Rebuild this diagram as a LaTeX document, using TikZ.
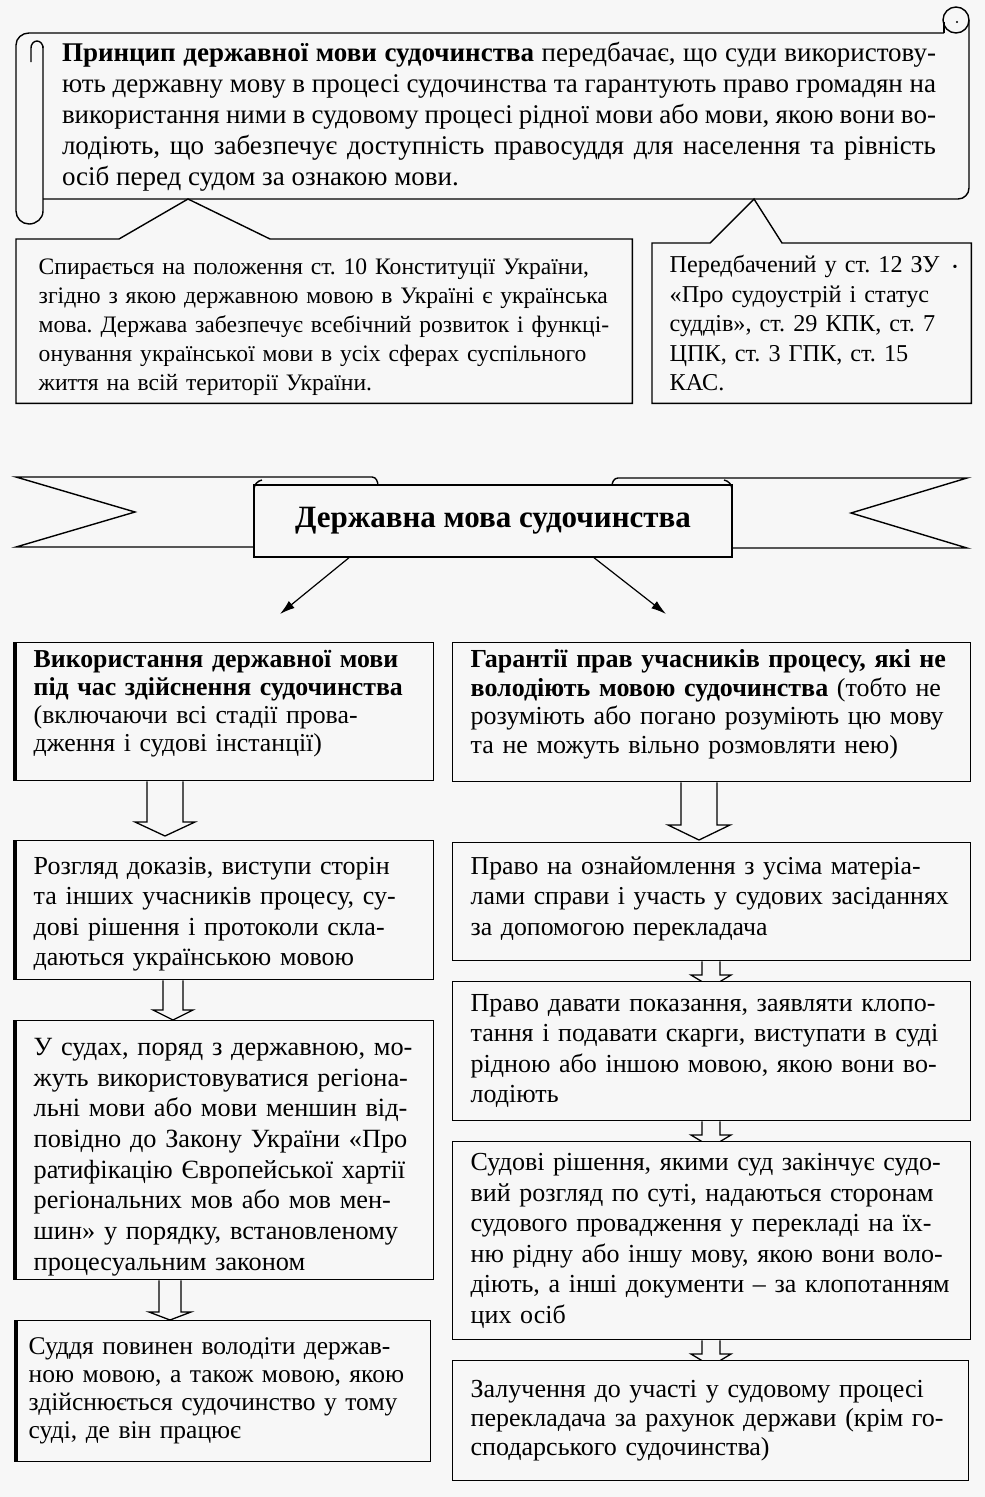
\documentclass[tikz,border=0pt]{standalone}
\usepackage{fontspec}
\setmainfont{Liberation Serif}
\usetikzlibrary{arrows.meta,calc}
\definecolor{bg}{HTML}{F7F7F7}
\pgfdeclarelayer{back}
\pgfdeclarelayer{arrs}
\pgfsetlayers{back,arrs,main}
\frenchspacing
\newcommand\oneline[1]{\mbox{#1}}
\newcommand\hollowarrow[7]{%
  \draw[harrow] let \p1=(#1.south), \p2=(#2.north) in
   (#3pt-#4pt,\y1) -- (#3pt-#4pt,\y2+#6pt) -- (#3pt-#5pt,\y2+#6pt) -- (#3pt,\y2-#7pt)
   -- (#3pt+#5pt,\y2+#6pt) -- (#3pt+#4pt,\y2+#6pt) -- (#3pt+#4pt,\y1);}
\tikzset{
  bline/.style={draw=black, line width=1.4pt},
  bx/.style n args={4}{bline, fill=bg, anchor=north west, minimum width=#1pt,
     minimum height=#2pt, inner xsep=#3pt, inner ysep=0pt, text width=#4pt, align=left},
  harrow/.style={draw=black, line width=1.3pt, fill=bg, line join=miter},
  thinarr/.style={draw=black, line width=1.2pt, -{Latex[length=15pt,width=9pt]}},
  thickedge/.style={draw=black, line width=3.5pt},
}
\begin{document}
\begin{tikzpicture}[x=1pt,y=-1pt]
\begin{pgfonlayer}{back}
\fill[bg] (0,0) rectangle (985,1497);
\end{pgfonlayer}
\useasboundingbox (0,0) rectangle (985,1497);

% ---------- scroll ----------
\draw[bline] (16,45) to[out=90,in=180] (29,33) -- (944,33);
\draw[bline] (16,45) -- (16,211) to[out=-90,in=180] (29,224) to[out=0,in=-90] (43,211) -- (43,46);
\draw[bline] (31,62) -- (31,48) to[out=90,in=180] (37,41) to[out=0,in=90] (43,48);
\draw[bline] (43,199) -- (958,199) to[out=0,in=-90] (969,188) -- (969,20);
\draw[bline] (956,20) circle[radius=13];
\draw[bline] (944,33) -- (944,22);
\fill (957,22) circle[radius=1.2];
\node[anchor=center, text width=874pt, align=justify, inner sep=0pt,
      font=\fontsize{27}{31}\selectfont] (P) at (499,117)
 {\textbf{Принцип державної мови судочинства} передбачає, що суди використову-\linebreak
  ють державну мову в процесі судочинства та гарантують право громадян на\linebreak
  використання ними в судовому процесі рідної мови або мови, якою вони во-\linebreak
  лодіють, що забезпечує доступність правосуддя для населення та рівність\linebreak
  осіб перед судом за ознакою мови.};
\coordinate (ap1) at (188,199);
\coordinate (ap2) at (754,199);

% ---------- callout boxes ----------
\node[bx={615}{163}{22}{571}, draw=none, fill=none, font=\fontsize{23.6}{29}\selectfont] (CL) at (16,239)
 {\oneline{\rule{0pt}{28pt}Спирається на положення ст. 10 Конституції України,}\\
  \oneline{згідно з якою державною мовою в Україні є українська}\\
  \oneline{мова. Держава забезпечує всебічний розвиток і функці-}\\
  \oneline{онування української мови в усіх сферах суспільного}\\
  \oneline{життя на всій території України.}};
\draw[bline] (CL.north west) -- ($(CL.north west)+(103,0)$) -- (ap1) -- ($(CL.north west)+(254,0)$)
  -- (CL.north east) -- (CL.south east) -- (CL.south west) -- cycle;
\node[bx={318}{159}{17}{284}, draw=none, fill=none, font=\fontsize{24.2}{29.5}\selectfont] (CR) at (652,243)
 {\oneline{Передбачений у ст. 12 ЗУ}\\
  \oneline{«Про судоустрій і статус}\\
  \oneline{суддів», ст. 29 КПК, ст. 7}\\
  \oneline{ЦПК, ст. 3 ГПК, ст. 15}\\
  \oneline{КАС.}};
\draw[bline] (CR.north west) -- ($(CR.north west)+(58,0)$) -- (ap2) -- ($(CR.north west)+(130,0)$)
  -- (CR.north east) -- (CR.south east) -- (CR.south west) -- cycle;
\node[font=\fontsize{14}{14}\selectfont, inner sep=0pt] (dot) at (955,268) {•};

% ---------- banner ----------
\draw[bline, fill=bg] (16,477) -- (372,477) to[out=0,in=90] (378,486) -- (378,547) -- (16,547) -- (135,512) -- cycle;
\draw[bline, fill=bg] (967,478) -- (618,478) to[out=180,in=90] (612,486) -- (612,548) -- (967,548) -- (851,513) -- cycle;
\node[bline, fill=bg, minimum width=478pt, minimum height=72pt, inner sep=0pt,
      font=\bfseries\fontsize{31}{36}\selectfont] (T) at (493,521) {Державна мова судочинства};
\draw[bline] (254,490) to[out=90,in=190] (262,480);
\draw[bline] (732,490) to[out=90,in=-10] (724,480);
\coordinate (a1) at (280,614);
\coordinate (a2) at (666,614);
\draw[thinarr] ($(T.south)+(-144,0)$) -- (a1);
\draw[thinarr] ($(T.south)+(101,0)$) -- (a2);

% ---------- left column ----------
\node[bx={418}{138}{18}{382}, font=\fontsize{25.8}{28}\selectfont] (L1) at (15,642)
 {\oneline{\textbf{Використання державної мови}}\\
  \oneline{\textbf{під час здійснення судочинства}}\\
  \oneline{(включаючи всі стадії прова-}\\
  \oneline{дження і судові інстанції)}\rule[-21pt]{0pt}{1pt}};
\node[bx={418}{139}{18}{382}, font=\fontsize{26}{30.5}\selectfont] (L2) at (15,840)
 {\oneline{\rule{0pt}{25pt}Розгляд доказів, виступи сторін}\\
  \oneline{та інших учасників процесу, су-}\\
  \oneline{дові рішення і протоколи скла-}\\
  \oneline{даються українською мовою}};
\node[bx={418}{259}{18}{382}, font=\fontsize{26.3}{30.7}\selectfont] (L3) at (15,1020)
 {\oneline{\rule{0pt}{31pt}У судах, поряд з державною, мо-}\\
  \oneline{жуть використовуватися регіона-}\\
  \oneline{льні мови або мови меншин від-}\\
  \oneline{повідно до Закону України «Про}\\
  \oneline{ратифікацію Європейської хартії}\\
  \oneline{регіональних мов або мов мен-}\\
  \oneline{шин» у порядку, встановленому}\\
  \oneline{процесуальним законом}};
\node[bx={414}{141}{12}{390}, font=\fontsize{25.5}{28}\selectfont] (L4) at (16,1320)
 {\oneline{Суддя повинен володіти держав-}\\
  \oneline{ною мовою, а також мовою, якою}\\
  \oneline{здійснюється судочинство у тому}\\
  \oneline{суді, де він працює}};
\foreach \n in {L1,L2,L3,L4}{\draw[thickedge] (\n.north west) -- (\n.south west);}

% ---------- right column ----------
\node[bx={518}{139}{18}{482}, font=\fontsize{26}{28.5}\selectfont] (R1) at (452,642)
 {\oneline{\textbf{Гарантії прав учасників процесу, які не}}\\
  \oneline{\textbf{володіють мовою судочинства} (тобто не}\\
  \oneline{розуміють або погано розуміють цю мову}\\
  \oneline{та не можуть вільно розмовляти нею)}\rule[-21pt]{0pt}{1pt}};
\node[bx={518}{118}{18}{482}, font=\fontsize{25.8}{30.5}\selectfont] (R2) at (452,842)
 {\oneline{Право на ознайомлення з усіма матеріа-}\\
  \oneline{лами справи і участь у судових засіданнях}\\
  \oneline{за допомогою перекладача}\rule[-12pt]{0pt}{1pt}};
\node[bx={518}{139}{18}{482}, font=\fontsize{26}{30.5}\selectfont] (R3) at (452,981)
 {\oneline{Право давати показання, заявляти клопо-}\\
  \oneline{тання і подавати скарги, виступати в суді}\\
  \oneline{рідною або іншою мовою, якою вони во-}\\
  \oneline{лодіють}};
\node[bx={518}{198}{18}{482}, font=\fontsize{26}{30.5}\selectfont] (R4) at (452,1141)
 {\oneline{Судові рішення, якими суд закінчує судо-}\\
  \oneline{вий розгляд по суті, надаються сторонам}\\
  \oneline{судового провадження у перекладі на їх-}\\
  \oneline{ню рідну або іншу мову, якою вони воло-}\\
  \oneline{діють, а інші документи – за клопотанням}\\
  \oneline{цих осіб}};
\node[bx={516}{120}{18}{480}, font=\fontsize{26}{29}\selectfont] (R5) at (452,1360)
 {\oneline{Залучення до участі у судовому процесі}\\
  \oneline{перекладача за рахунок держави (крім го-}\\
  \oneline{сподарського судочинства)}};

% ---------- hollow arrows ----------
\begin{pgfonlayer}{arrs}
\hollowarrow{L1}{L2}{165}{18}{30}{18}{-4}
\hollowarrow{L2}{L3}{173}{10}{20}{10}{0}
\hollowarrow{L3}{L4}{170}{11}{21}{8}{0}
\hollowarrow{R1}{R2}{699}{18}{31}{17}{-2}
\hollowarrow{R2}{R3}{711}{9}{20}{6}{6}
\hollowarrow{R3}{R4}{711}{9}{20}{6}{6}
\hollowarrow{R4}{R5}{711}{9}{20}{6}{6}
\end{pgfonlayer}
\end{tikzpicture}
\end{document}
